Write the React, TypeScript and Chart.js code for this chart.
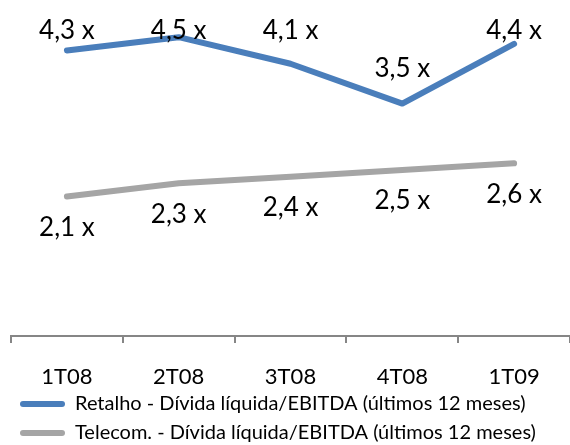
import React, { useEffect, useRef } from 'react';
import { Chart, registerables } from 'chart.js';

Chart.register(...registerables);

const categories = ['1T08', '2T08', '3T08', '4T08', '1T09'];
const retalho = [4.3, 4.5, 4.1, 3.5, 4.4];
const telecom = [2.1, 2.3, 2.4, 2.5, 2.6];
const seriesNames = [
  'Retalho - Dívida líquida/EBITDA (últimos 12 meses)',
  'Telecom. - Dívida líquida/EBITDA (últimos 12 meses)',
];
const colors = ['#4a7ebb', '#a5a5a5'];

const FONT = 'Lato';
const CANVAS_H = 453;

const valueLabels = {
  id: 'valueLabels',
  afterDatasetsDraw(chart: any) {
    const ctx = chart.ctx;
    ctx.save();
    ctx.font = `26px ${FONT}`;
    ctx.fillStyle = '#000';
    ctx.textAlign = 'center';
    ctx.textBaseline = 'middle';
    chart.data.datasets.forEach((ds: any, i: number) => {
      const meta = chart.getDatasetMeta(i);
      meta.data.forEach((pt: any, j: number) => {
        const v = ds.data[j] as number;
        const text = v.toFixed(1).replace('.', ',') + ' x';
        const y = i === 0 ? Math.max(pt.y - 35, 31) : pt.y + 31;
        ctx.fillText(text, pt.x, y);
      });
    });
    ctx.restore();
  },
};

export default function App() {
  const ref = useRef<HTMLCanvasElement | null>(null);
  useEffect(() => {
    if (!ref.current) return;
    const chart = new Chart(ref.current, {
      type: 'line',
      data: {
        labels: categories,
        datasets: [
          {
            label: seriesNames[0],
            data: retalho,
            borderColor: colors[0],
            backgroundColor: colors[0],
            borderWidth: 6,
            borderCapStyle: 'round',
            borderJoinStyle: 'round',
            pointRadius: 0,
            tension: 0,
          },
          {
            label: seriesNames[1],
            data: telecom,
            borderColor: colors[1],
            backgroundColor: colors[1],
            borderWidth: 6,
            borderCapStyle: 'round',
            borderJoinStyle: 'round',
            pointRadius: 0,
            tension: 0,
          },
        ],
      },
      options: {
        animation: false,
        responsive: false,
        maintainAspectRatio: false,
        layout: { padding: { left: 11, right: 0, top: 4, bottom: 0 } },
        plugins: {
          tooltip: { enabled: false },
          legend: {
            position: 'bottom',
            align: 'start',
            labels: {
              boxWidth: 45,
              boxHeight: 6,
              useBorderRadius: true,
              borderRadius: 3,
              padding: 9,
              color: '#000',
              font: { family: FONT, size: 20 },
              generateLabels: (chart: any) =>
                chart.data.datasets.map((ds: any, i: number) => ({
                  text: ds.label,
                  fillStyle: ds.borderColor,
                  strokeStyle: 'rgba(0,0,0,0)',
                  lineWidth: 0,
                  hidden: false,
                  datasetIndex: i,
                  fontColor: '#000',
                  borderRadius: 3,
                })),
            },
          },
        },
        scales: {
          x: {
            offset: true,
            afterFit: (scale: any) => {
              scale.height = 49;
            },
            grid: {
              offset: true,
              drawOnChartArea: false,
              drawTicks: true,
              tickLength: 7,
              color: '#868686',
              lineWidth: 2,
            },
            border: { display: true, color: '#868686', width: 2 },
            ticks: {
              color: '#000',
              padding: 21,
              font: { family: FONT, size: 22 },
            },
          },
          y: {
            display: false,
            min: 0,
            max: 5,
          },
        },
      },
      plugins: [valueLabels],
    });
    return () => chart.destroy();
  }, []);
  return (
    <div style={{ position: 'absolute', left: 0, top: 0, width: 570, height: 445, overflow: 'hidden', background: '#fff' }}>
      <canvas ref={ref} width={570} height={CANVAS_H} style={{ width: 570, height: CANVAS_H, display: 'block' }} />
    </div>
  );
}
